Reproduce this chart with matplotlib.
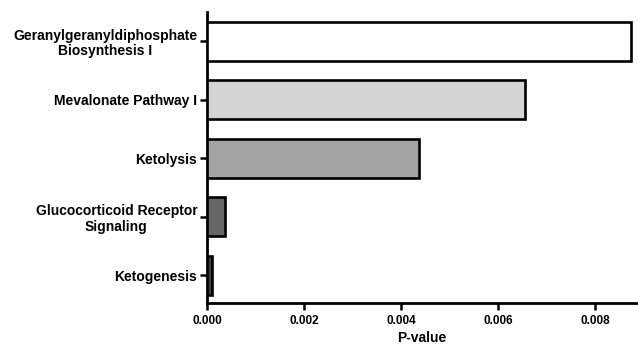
import numpy as np
import matplotlib
matplotlib.use("Agg")
import matplotlib.pyplot as plt

# pathways, top to bottom
PATHWAYS = ["Geranylgeranyldiphosphate\nBiosynthesis I",
            "Mevalonate Pathway I",
            "Ketolysis",
            "Glucocorticoid Receptor\nSignaling",
            "Ketogenesis"]
P_VALUES = [0.00873, 0.00655, 0.00437, 0.00037, 0.00011]
BAR_COLORS = ["#ffffff", "#d4d4d4", "#a3a3a3", "#666666", "#3f3f3f"]
X_TICKS = [0.000, 0.002, 0.004, 0.006, 0.008]

plt.rcParams["font.family"] = ["Liberation Sans", "DejaVu Sans"]
plt.rcParams["font.weight"] = "bold"

fig = plt.figure(figsize=(6.38, 3.46), dpi=100)
ax = fig.add_axes([0.3245, 0.1243, 0.999 - 0.3245, 0.9653 - 0.1243])

y = np.arange(len(PATHWAYS))
ax.barh(y, P_VALUES, height=0.667, color=BAR_COLORS,
        edgecolor="black", linewidth=1.9, zorder=3)

ax.set_ylim(4.47, -0.5)
ax.set_xlim(0, 0.00887)

ax.set_yticks(y)
ax.set_yticklabels(PATHWAYS, fontsize=10, fontweight="bold",
                   multialignment="center", linespacing=1.1)
ax.set_xticks(X_TICKS)
ax.set_xticklabels([f"{v:.3f}" for v in X_TICKS], fontsize=8.5, fontweight="bold")
ax.set_xlabel("P-value", fontsize=10, fontweight="bold", labelpad=3)

for side in ["top", "right"]:
    ax.spines[side].set_visible(False)
for side in ["left", "bottom"]:
    ax.spines[side].set_linewidth(2)
ax.tick_params(axis="x", direction="out", length=5, width=1.8, pad=3.5)
ax.tick_params(axis="y", direction="out", length=5, width=1.8, pad=2)

fig.savefig("out.png", dpi=100)
